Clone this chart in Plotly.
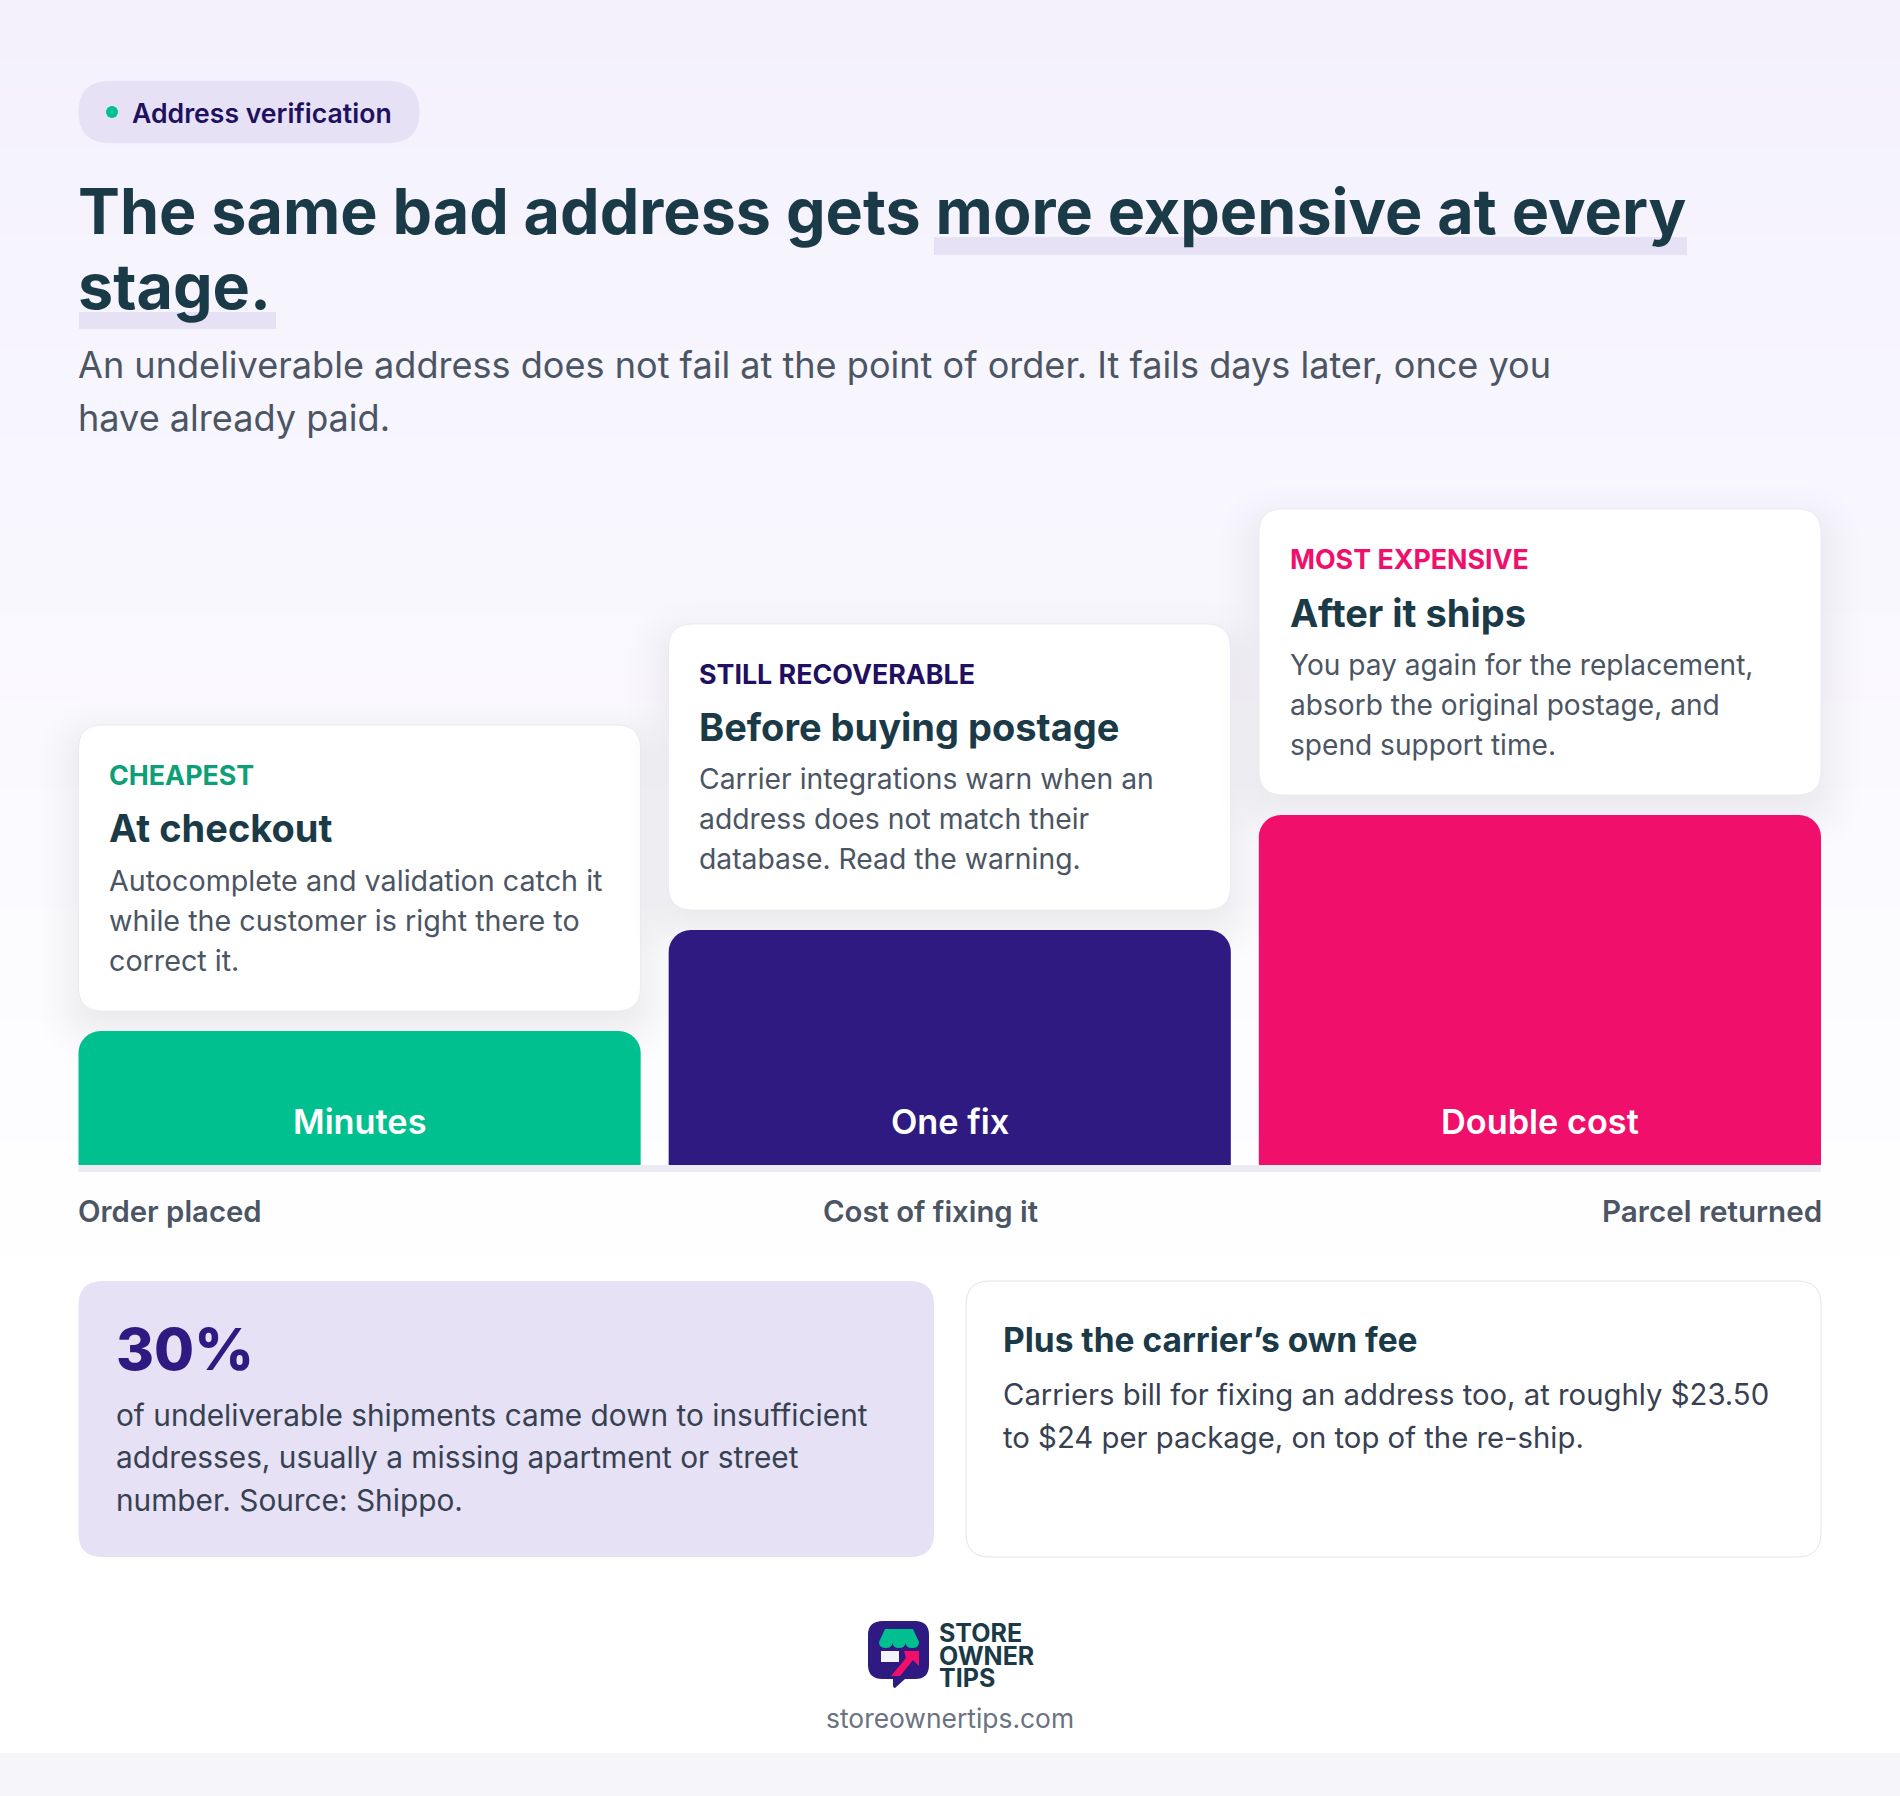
import plotly.graph_objects as go

W = 1900
H = 1796

stages = ['At checkout', 'Before buying postage', 'After it ships']
cost_heights = [134, 235, 350]
bar_labels = ['Minutes', 'One fix', 'Double cost']
bar_colors = ['#00C08F', '#2E1A80', '#F0106B']
tags = ['CHEAPEST', 'STILL RECOVERABLE', 'MOST EXPENSIVE']
tag_colors = ['#0E9F78', '#21105F', '#F0106B']
card_lines = [
    ['Autocomplete and validation catch it', 'while the customer is right there to', 'correct it.'],
    ['Carrier integrations warn when an', 'address does not match their', 'database. Read the warning.'],
    ['You pay again for the replacement,', 'absorb the original postage, and', 'spend support time.'],
]
axis_labels = ['Order placed', 'Cost of fixing it', 'Parcel returned']
title_lines = ['The same bad address gets more expensive at every', 'stage.']
subtitle_lines = ['An undeliverable address does not fail at the point of order. It fails days later, once you',
                  'have already paid.']
stat_lines = ['of undeliverable shipments came down to insufficient',
              'addresses, usually a missing apartment or street',
              'number. Source: Shippo.']
fee_lines = ['Carriers bill for fixing an address too, at roughly $23.50',
             'to $24 per package, on top of the re-ship.']

INK = '#1B3A47'
GREY = '#4B5563'
LAVENDER = '#E6E1F5'
FONT = 'Inter'

col_x = [78.5, 668.5, 1259]
card_w = 562
card_h = 286
card_top = [725, 624, 509]
card_font = [28.7, 28.3, 28.1]
card_nudge = [0, 0, 1]
card_pad = [31, 31.5, 32]
base_y = 1165
top_y = 815

shapes = []
annotations = []


def rounded(x0, y0, x1, y1, r):
    return (f'M{x0+r},{y0} L{x1-r},{y0} Q{x1},{y0} {x1},{y0+r} L{x1},{y1-r} Q{x1},{y1} {x1-r},{y1} '
            f'L{x0+r},{y1} Q{x0},{y1} {x0},{y1-r} L{x0},{y0+r} Q{x0},{y0} {x0+r},{y0} Z')


def add_path(path, fill, line=None, opacity=1):
    shapes.append(dict(type='path', path=path, xref='x', yref='y', layer='below', fillcolor=fill, opacity=opacity,
                       line=dict(color=line or fill, width=1 if line else 0)))


def add_box(x0, y0, x1, y1, fill):
    shapes.append(dict(type='rect', x0=x0, y0=y0, x1=x1, y1=y1, xref='x', yref='y', layer='below',
                       fillcolor=fill, line=dict(width=0)))


def add_text(x, y, s, size, color, weight=400, anchor='left'):
    # annotations carry a little padding, pull the text back onto the grid
    shift = {'left': -3, 'center': 0, 'right': 2.5}[anchor]
    annotations.append(dict(x=x + shift, y=y, text=s, xref='x', yref='y', showarrow=False, xanchor=anchor,
                            yanchor='middle', font=dict(family=FONT, size=size, color=color, weight=weight)))


# page background, soft lavender fading down to white
top_col = (244, 241, 253)
for i in range(60):
    t = i / 59
    c = [round(a + (255 - a) * min(t / 0.75, 1)) for a in top_col]
    add_box(0, i * 1753 / 60, W, (i + 1) * 1753 / 60 + 1, f'rgb({c[0]},{c[1]},{c[2]})')
add_box(0, 1753, W, H, '#F5F5FA')

# header
add_path(rounded(78.5, 81, 419.5, 143, 31), LAVENDER)
shapes.append(dict(type='circle', x0=106, y0=106, x1=118, y1=118, xref='x', yref='y', layer='below',
                   fillcolor='#00C08F', line=dict(width=0)))
add_text(133, 113, 'Address verification', 26.6, '#21105F', 600)
add_box(934, 237, 1687, 255, LAVENDER)
add_box(79, 312, 276, 329, LAVENDER)
add_text(79, 211, title_lines[0], 62.8, INK, 700)
add_text(79, 286, title_lines[1], 62.8, INK, 700)
add_text(79, 365, subtitle_lines[0], 36.1, GREY)
add_text(79, 418, subtitle_lines[1], 36.1, GREY)

# stage cards, the shadow is a stack of faint rounded boxes, each one about one colour level
shadow_grow = [40, 34, 29, 25, 21, 18, 15, 12, 9, 6, 3, 0, -3, -6, -9, -12]
for i in range(3):
    x, y = col_x[i], card_top[i]
    for grow in shadow_grow:
        add_path(rounded(x - grow, y + 16 - grow, x + card_w + grow, y + card_h + 16 + grow, 24 + max(grow, 0)),
                 '#30304A', opacity=0.005)
    add_path(rounded(x, y, x + card_w, y + card_h, 24), '#FFFFFF', line='#ECEAF3')
    n = card_nudge[i]
    tx = x + card_pad[i]
    add_text(tx, y + 49.5, tags[i], 26.8, tag_colors[i], 700)
    add_text(tx, y + 103 + n, stages[i], 38, INK, 700)
    for j, line in enumerate(card_lines[i]):
        add_text(tx, y + 155 + n + j * 40, line, card_font[i], GREY)
    add_text(x + card_w / 2, 1121, bar_labels[i], 34.3, '#FFFFFF', 600, 'center')

# baseline under the bars and its labels
add_box(78.5, base_y, 1821, 1172, '#ECEAF3')
add_text(79, 1211, axis_labels[0], 29.3, GREY, 600)
add_text(930, 1211, axis_labels[1], 29.3, GREY, 600, 'center')
add_text(1821, 1211, axis_labels[2], 29.6, GREY, 600, 'right')

# bottom panels
add_path(rounded(78.5, 1281, 934, 1557, 24), LAVENDER)
add_path(rounded(966, 1281, 1821, 1557, 24), '#FFFFFF', line='#E4E2EC')
add_text(117, 1349, '30%', 58, '#2E1A80', 800)
for j, line in enumerate(stat_lines):
    add_text(117, 1414.5 + j * 42.7, line, 29.8, '#374151')
add_text(1004, 1339.5, 'Plus the carrier’s own fee', 33.5, INK, 700)
for j, line in enumerate(fee_lines):
    add_text(1004, 1394.5 + j * 42.5, line, 29.3, '#374151')

# logo
add_path('M883,1621 L915,1621 Q929,1621 929,1635 L929,1665 Q929,1679 915,1679 L905,1679 L895,1688 Q893,1688 893,1685 '
         'L893,1679 L883,1679 Q868,1679 868,1665 L868,1635 Q868,1621 883,1621 Z', '#2E1A80')
add_path('M885,1629 L913,1629 L919,1642 Q919,1648 912,1648 Q906,1648 905.5,1643 Q905,1648 899,1648 Q893,1648 892.5,1643 '
         'Q892,1648 886,1648 Q879,1648 879,1642 Z', '#00C08F')
add_box(881, 1651, 899, 1662, '#F5F3FA')
add_path('M904,1651 L919,1651 L919,1666 L913,1660 L900,1676 L891,1676 L906,1658 Z', '#F0106B')
add_text(940, 1633, 'STORE', 25, INK, 700)
add_text(940, 1656, 'OWNER', 25, INK, 700)
add_text(940, 1678, 'TIPS', 25, INK, 700)
add_text(950, 1718, 'storeownertips.com', 26.4, '#6B7280', 400, 'center')

slot = (1821 - 78.5 + 28) / 3
fig = go.Figure()
fig.add_trace(go.Bar(x=stages, y=cost_heights, marker=dict(color=bar_colors, line=dict(width=0)),
                     xaxis='x2', yaxis='y2', hoverinfo='skip', cliponaxis=False))
fig.update_layout(
    width=W, height=H, margin=dict(l=0, r=0, t=0, b=0), paper_bgcolor='#FFFFFF', plot_bgcolor='rgba(0,0,0,0)',
    showlegend=False, barcornerradius=22, bargap=28 / slot, shapes=shapes, annotations=annotations,
    xaxis=dict(range=[0, W], domain=[0, 1], visible=False, fixedrange=True),
    yaxis=dict(range=[H, 0], domain=[0, 1], visible=False, fixedrange=True),
    xaxis2=dict(domain=[(78.5 - 14) / W, (1821 + 14) / W], range=[-0.5, 2.5], anchor='y2', visible=False),
    yaxis2=dict(domain=[(H - base_y) / H, (H - top_y) / H], range=[0, 350], anchor='x2', visible=False),
)
fig.write_html('out.html', config=dict(displayModeBar=False),
               post_script="document.body.style.margin='0';document.body.style.overflow='hidden';")
